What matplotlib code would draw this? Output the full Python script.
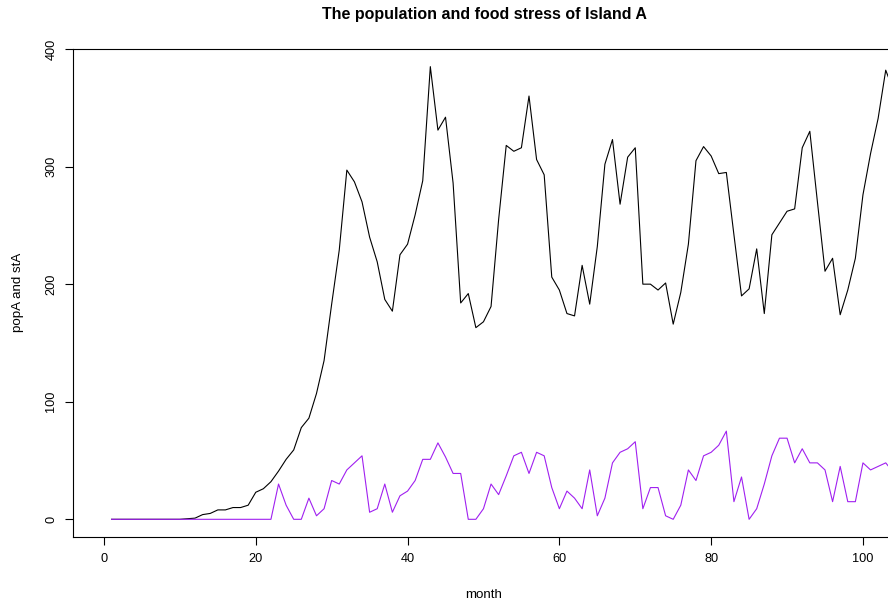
import matplotlib.pyplot as plt

# Island A simulation output (one value per month)
popA = [0, 0, 0, 0, 0, 0, 0, 0, 0, 0,
        0.5, 1, 4, 5, 8, 8, 10, 10, 12, 23,
        26, 32, 41, 51, 59, 78, 86, 107, 135, 183,
        229, 297, 287, 270, 240, 219, 187, 177, 225, 234,
        259, 288, 385, 331, 342, 286, 184, 192, 163, 168,
        181, 255, 318, 313, 316, 360, 306, 293, 206, 195,
        175, 173, 216, 183, 232, 302, 323, 268, 308, 316,
        200, 200, 195, 201, 166, 193, 234, 305, 317, 309,
        294, 295, 242, 190, 196, 230, 175, 242, 252, 262,
        264, 316, 330, 270, 211, 222, 174, 195, 222, 276,
        311, 341, 382, 365]
stA = [0, 0, 0, 0, 0, 0, 0, 0, 0, 0,
       0, 0, 0, 0, 0, 0, 0, 0, 0, 0,
       0, 0, 30, 12, 0, 0, 18, 3, 9, 33,
       30, 42, 48, 54, 6, 9, 30, 6, 20, 24,
       33, 51, 51, 65, 53, 39, 39, 0, 0, 9,
       30, 21, 37, 54, 57, 39, 57, 54, 27, 9,
       24, 18, 9, 42, 3, 18, 48, 57, 60, 66,
       9, 27, 27, 3, 0, 12, 42, 33, 54, 57,
       63, 75, 15, 36, 0, 9, 30, 54, 69, 69,
       48, 60, 48, 48, 42, 15, 45, 15, 15, 48,
       42, 45, 48, 40]
months = list(range(1, len(popA) + 1))

plt.rcParams['font.family'] = ['Liberation Sans', 'DejaVu Sans']

fig = plt.figure(figsize=(8.88, 6.04), dpi=100)
ax = fig.add_axes([73.3 / 888, 66.7 / 604, (888 - 73.3) / 888, 488.3 / 604])

ax.plot(months, popA, color='black', lw=0.8)
ax.plot(months, stA, color='#A020F0', lw=0.8)

ax.set_xlim(-4.04, 103.3)
ax.set_ylim(-15.3, 400)
ax.set_xticks([0, 20, 40, 60, 80, 100])
ax.set_yticks([0, 100, 200, 300, 400])
ax.spines['right'].set_visible(False)
for s in ['left', 'bottom', 'top']:
    ax.spines[s].set_linewidth(0.8)
ax.tick_params(axis='both', direction='out', length=5.5, width=0.8,
               labelsize=9.2, pad=6)
plt.setp(ax.get_yticklabels(), rotation=90, va='center')

fig.text(484 / 888, 1 - 15 / 604, 'The population and food stress of Island A',
         ha='center', va='center', fontsize=11.5, fontweight='bold')
fig.text(484 / 888, 1 - 595 / 604, 'month', ha='center', va='center', fontsize=9.6)
fig.text(18 / 888, 1 - 292 / 604, 'popA and stA', ha='center', va='center',
         rotation=90, fontsize=9.6)

fig.savefig('out.png', dpi=100)
